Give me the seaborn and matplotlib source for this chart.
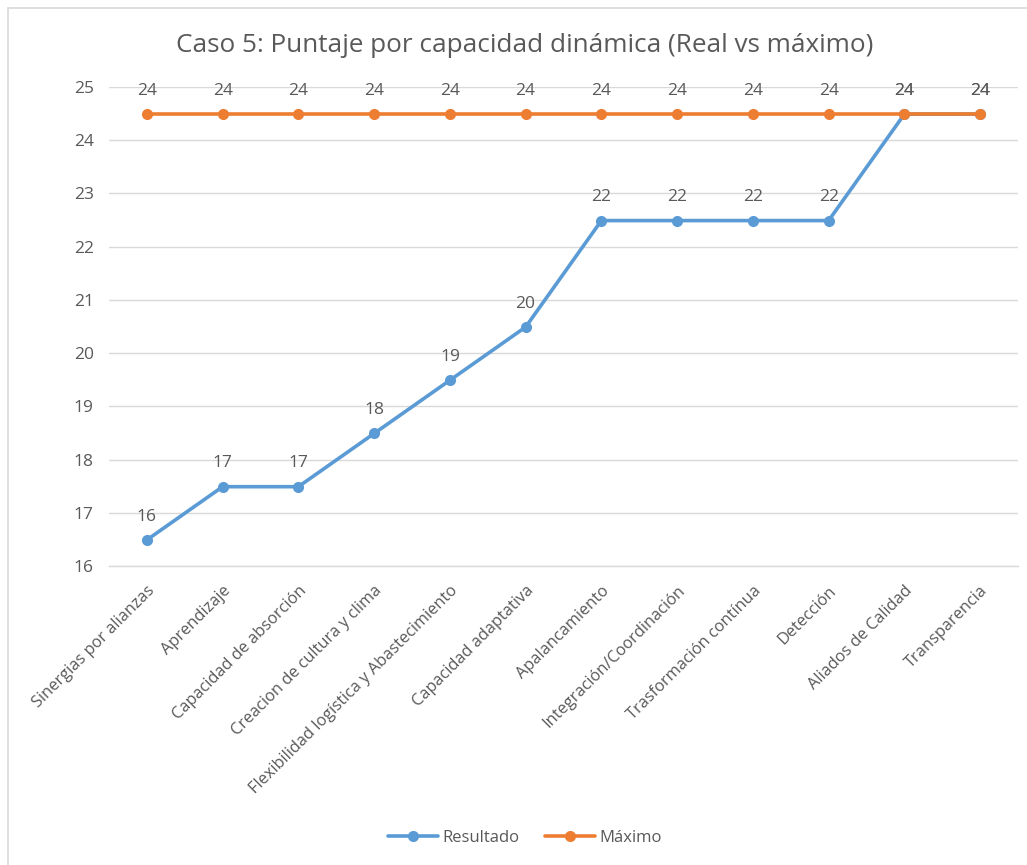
import matplotlib
matplotlib.use("Agg")
import matplotlib.pyplot as plt
import seaborn as sns
import pandas as pd
import numpy as np

categories = ["Sinergias por alianzas", "Aprendizaje", "Capacidad de absorción",
              "Creacion de cultura y clima", "Flexibilidad logística y Abastecimiento",
              "Capacidad adaptativa", "Apalancamiento", "Integración/Coordinación",
              "Trasformación contínua", "Detección", "Aliados de Calidad", "Transparencia"]
resultado = [16.49, 17.49, 17.49, 18.49, 19.49, 20.49, 22.49, 22.49, 22.49, 22.49, 24.49, 24.49]
maximo = [24.49] * 12
series_names = ["Resultado", "Máximo"]
colors = ["#5B9BD5", "#ED7D31"]
yticks = list(range(16, 26))

sns.set_theme(style="white")
plt.rcParams["font.family"] = ["Open Sans", "DejaVu Sans"]
TXT = "#595959"

df = pd.DataFrame({
    "pos": list(range(len(categories))) * 2,
    "valor": resultado + maximo,
    "serie": [series_names[0]] * len(categories) + [series_names[1]] * len(categories),
})

fig = plt.figure(figsize=(10.27, 8.65), dpi=100)
ax = fig.add_axes([109 / 1027, 1 - 566 / 865, (1018 - 109) / 1027, (566 - 87) / 865])

sns.lineplot(data=df, x="pos", y="valor", hue="serie", hue_order=series_names,
             palette=colors, marker="o", markersize=8, markeredgewidth=0,
             linewidth=2.6, ax=ax, legend=False, zorder=3)

for vals, c in zip([resultado, maximo], colors):
    for i, v in enumerate(vals):
        ax.annotate(f"{v:.0f}", (i, v), xytext=(0, 11), textcoords="offset points",
                    ha="center", va="bottom", fontsize=12.5, color=TXT)

ax.set_xlim(-0.5, len(categories) - 0.5)
ax.set_ylim(16, 25)
ax.set_yticks(yticks)
ax.set_yticklabels([str(t) for t in yticks], fontsize=12.5, color=TXT)
ax.set_xticks(range(len(categories)))
ax.set_xticklabels(categories, rotation=45, ha="right", rotation_mode="anchor",
                   fontsize=11.8, color=TXT)
ax.set_xticks(np.arange(-0.5, len(categories), 1), minor=True)
ax.tick_params(axis="x", which="major", length=0, pad=12)
ax.tick_params(axis="x", which="minor", length=7, color="#D9D9D9", width=1)
ax.tick_params(axis="y", length=0, pad=11)
ax.set_xlabel("")
ax.set_ylabel("")
ax.yaxis.grid(True, color="#D9D9D9", linewidth=1)
ax.set_axisbelow(True)
for s in ["left", "right", "top"]:
    ax.spines[s].set_visible(False)
ax.spines["bottom"].set_color("#D9D9D9")
ax.spines["bottom"].set_linewidth(1)

fig.text(525 / 1027, 1 - 45 / 865, "Caso 5: Puntaje por capacidad dinámica (Real vs máximo)",
         ha="center", va="center", fontsize=18.8, color=TXT)

handles = [plt.Line2D([], [], color=c, marker="o", markersize=8, linewidth=2.6,
                      markeredgewidth=0) for c in colors]
fig.legend(handles, series_names, loc="center", bbox_to_anchor=(525 / 1027, 1 - 838 / 865),
           ncol=2, frameon=False, fontsize=12, labelcolor=TXT, handlelength=3,
           columnspacing=1.5, handletextpad=0.3)

# light outer frame
fig.add_artist(plt.Line2D([8 / 1027, 8 / 1027], [0, 1 - 8 / 865], transform=fig.transFigure,
                          color="#D9D9D9", linewidth=1.2))
fig.add_artist(plt.Line2D([8 / 1027, 1], [1 - 8 / 865, 1 - 8 / 865], transform=fig.transFigure,
                          color="#D9D9D9", linewidth=1.2))

fig.savefig("out.png", dpi=100)
